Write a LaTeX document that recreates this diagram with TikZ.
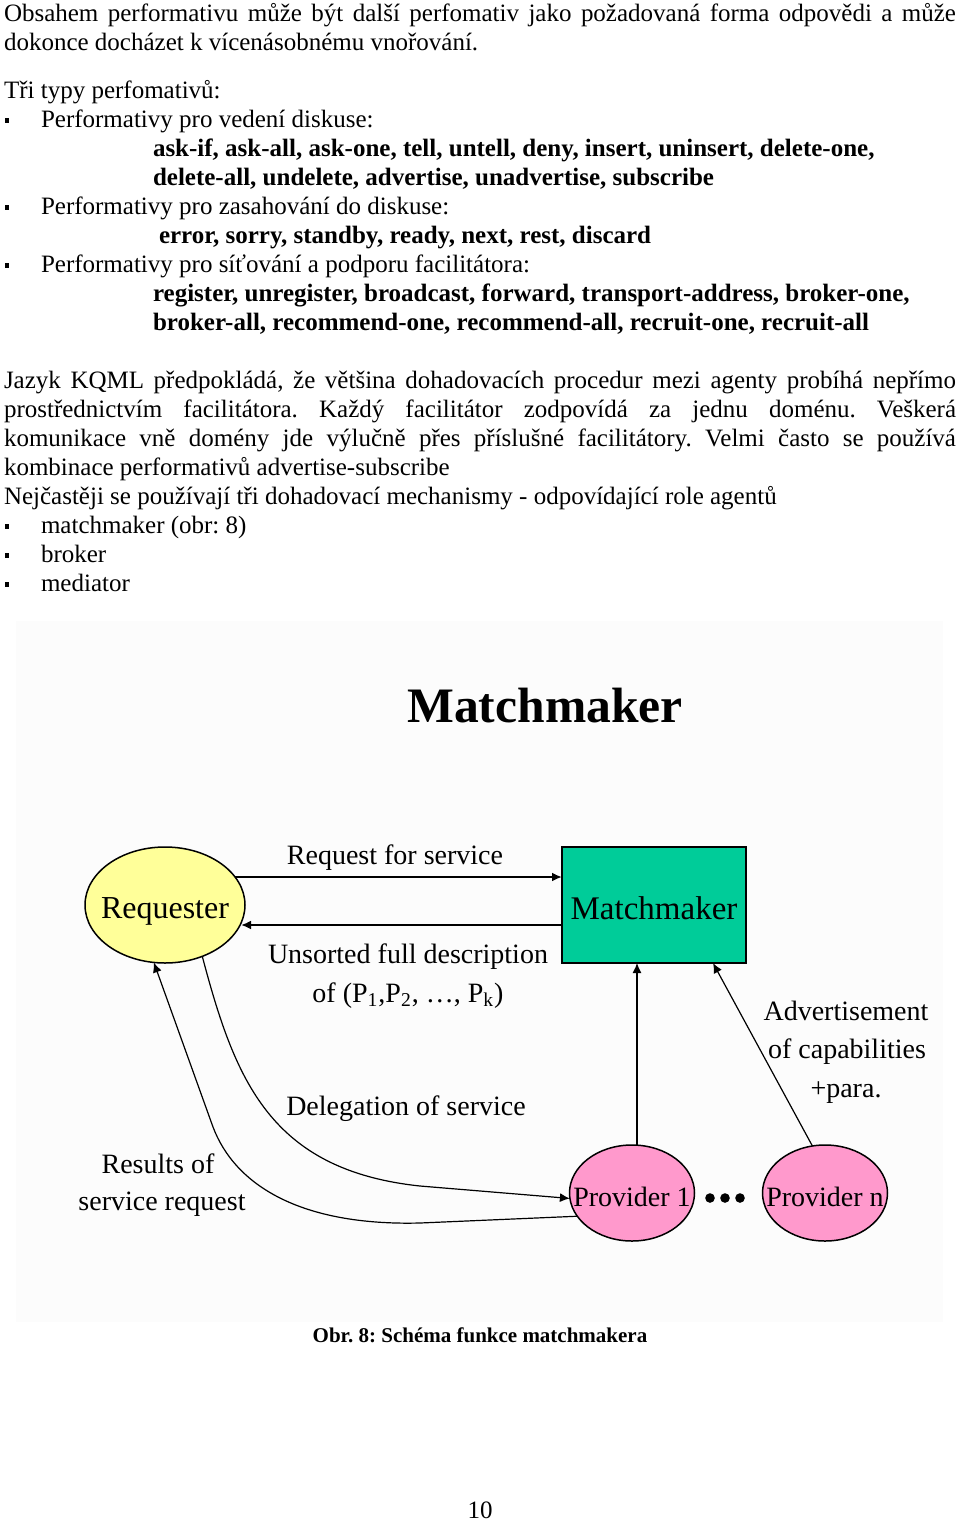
\documentclass[tikz,border=0pt]{standalone}
\usepackage{fontspec}
\setmainfont{Liberation Serif}
\usetikzlibrary{shapes.geometric, arrows.meta, calc}

\definecolor{reqyellow}{HTML}{FFFF99}
\definecolor{mmgreen}{HTML}{00CC99}
\definecolor{provpink}{HTML}{FF99CC}
\definecolor{diagbg}{HTML}{FCFCFC}

\newcommand{\bodyfont}{\fontsize{12.5}{14.5}\selectfont}
\newcommand{\lblfont}{\fontsize{14}{16}\selectfont}
\newcommand{\justline}[1]{\makebox[476pt][s]{#1}}
\frenchspacing

\begin{document}
\begin{tikzpicture}[
        x=0.5pt, y=-0.5pt,
        every node/.style = {inner sep=0pt, outer sep=0pt},
        body/.style = {anchor=base west, font=\bodyfont},
        kw/.style = {anchor=base west, font=\bodyfont\bfseries},
        lbl/.style = {anchor=base, font=\lblfont},
        ellnode/.style = {ellipse, draw, line width=0.75pt, minimum width=#1},
        arr/.style = {-{Latex[length=5pt, width=4.5pt]}, line width=1pt},
        thinarr/.style = {-{Latex[length=5pt, width=4.5pt]}, line width=0.6pt}
    ]
    \useasboundingbox (0,0) rectangle (960,1521);

    \node[body] (obs1) at (4,21) {\justline{Obsahem performativu může být další perfomativ jako požadovaná forma odpovědi a může}};
    \node[body] (obs2) at (4,50) {dokonce docházet k vícenásobnému vnořování.};
    \node[body] (types) at (4,98) {Tři typy perfomativů:};
    \node[body] (type1) at (41,127) {Performativy pro vedení diskuse:};
    \node[kw] (type1a) at (153,156) {ask-if, ask-all, ask-one, tell, untell, deny, insert, uninsert, delete-one,};
    \node[kw] (type1b) at (153,185) {delete-all, undelete, advertise, unadvertise, subscribe};
    \node[body] (type2) at (41,214) {Performativy pro zasahování do diskuse:};
    \node[kw] (type2a) at (159,243) {error, sorry, standby, ready, next, rest, discard};
    \node[body] (type3) at (41,272) {Performativy pro síťování a podporu facilitátora:};
    \node[kw] (type3a) at (153,301) {register, unregister, broadcast, forward, transport-address, broker-one,};
    \node[kw] (type3b) at (153,330) {broker-all, recommend-one, recommend-all, recruit-one, recruit-all};
    \node[body] (kqml1) at (4,388) {\justline{Jazyk KQML předpokládá, že většina dohadovacích procedur mezi agenty probíhá nepřímo}};
    \node[body] (kqml2) at (4,417) {\justline{prostřednictvím facilitátora. Každý facilitátor zodpovídá za jednu doménu. Veškerá}};
    \node[body] (kqml3) at (4,446) {\justline{komunikace vně domény jde výlučně přes příslušné facilitátory. Velmi často se používá}};
    \node[body] (kqml4) at (4,475) {kombinace performativů advertise-subscribe};
    \node[body] (mech) at (4,504) {Nejčastěji se používají tři dohadovací mechanismy - odpovídající role agentů};
    \node[body] (mech1) at (41,533) {matchmaker (obr: 8)};
    \node[body] (mech2) at (41,562) {broker};
    \node[body] (mech3) at (41,591) {mediator};
    \foreach \y in {127,214,272,533,562,591}
        \fill (5,\y-9) rectangle (9,\y-4);

    \fill[diagbg] (16,621) rectangle (943,1322);
    \node[anchor=base, font=\fontsize{24.8}{28}\selectfont\bfseries] (title) at (545,722) {Matchmaker};

    \node[ellnode=80pt, minimum height=58pt, fill=reqyellow,
        label={[font=\fontsize{16}{18}\selectfont, yshift=-3pt]center:Requester}] (req) at (165,905) {};
    \node[draw, line width=0.75pt, fill=mmgreen, minimum width=92pt, minimum height=58pt,
        text height=14pt, text depth=0pt, font=\fontsize{16.5}{18}\selectfont] (mm) at (654,905) {Matchmaker};
    \node[ellnode=62.5pt, minimum height=48pt, fill=provpink,
        label={[font=\lblfont, yshift=-2pt]center:Provider 1}] (p1) at (632,1193) {};
    \node[ellnode=62.5pt, minimum height=48pt, fill=provpink,
        label={[font=\lblfont, yshift=-2pt]center:Provider n}] (pn) at (825,1193) {};
    \foreach \dx in {710,725,740}
        \fill (\dx,1198) circle (4.8);

    \node[lbl] (lreq) at (395,864) {Request for service};
    \node[lbl] (luns1) at (408,963) {Unsorted full description};
    \node[lbl] (luns2) at (408,1002) {of (P\textsubscript{1},P\textsubscript{2}, …, P\textsubscript{k})};
    \node[lbl] (ldeleg) at (406,1115) {Delegation of service};
    \node[lbl] (lres1) at (158,1173) {Results of};
    \node[lbl] (lres2) at (162,1210) {service request};
    \node[lbl] (ladv1) at (846,1020) {Advertisement};
    \node[lbl] (ladv2) at (847,1058) {of capabilities};
    \node[lbl] (ladv3) at (846,1097) {+para.};

    \draw[arr] ($(req.center)+(70,-28)$) -- ($(mm.west)+(0,-28)$);
    \draw[arr] ($(mm.west)+(0,20)$) -- ($(req.center)+(76,20)$);
    \draw[thinarr] ([xshift=2.5pt]p1.north) -- ([xshift=2.5pt]p1.north |- mm.south);
    \draw[thinarr] (pn.105) -- ($(mm.south east)+(-33,0)$);
    \draw[thinarr] (req.-54) .. controls (235,1080) and (270,1170) .. (420,1186) -- (p1.185);
    \draw[thinarr] (p1.203) -- (420,1223) .. controls (300,1226) and (235,1185) .. (213,1127) -- (req.-101);

    \node[anchor=base, font=\fontsize{10.5}{12}\selectfont\bfseries] (caption) at (480,1342) {Obr. 8: Schéma funkce matchmakera};
    \node[body, anchor=base] (pagenum) at (480,1518) {10};
\end{tikzpicture}
\end{document}
